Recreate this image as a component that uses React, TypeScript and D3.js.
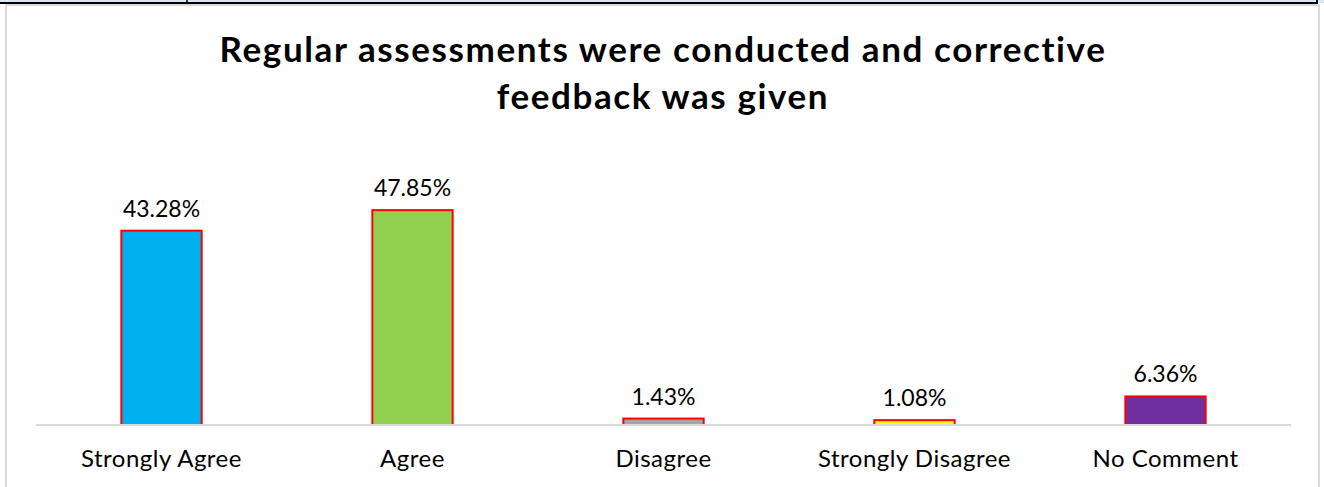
import React from "react";
import * as d3 from "d3";

const categories = ["Strongly Agree", "Agree", "Disagree", "Strongly Disagree", "No Comment"];
const values = [43.28, 47.85, 1.43, 1.08, 6.36];
const valueLabels = ["43.28%", "47.85%", "1.43%", "1.08%", "6.36%"];
const barColors = ["#00b0f0", "#92d050", "#a5a5a5", "#ffff00", "#7030a0"];
const titleLines = ["Regular assessments were conducted and corrective", "feedback was given"];

const W = 1324;
const H = 487;

export default function App() {
  const x = d3.scaleBand<string>().domain(categories).range([36, 1291]).paddingInner(0.68).paddingOuter(0.34);
  const y = d3.scaleLinear().domain([0, 60]).range([425, 425 - 269.4]);
  const font = "Lato, 'Open Sans', sans-serif";
  return (
    <div style={{ position: "fixed", left: 0, top: 0, width: W, height: H, background: "#fff" }}>
      <svg width={W} height={H} style={{ display: "block" }}>
        <rect x={0} y={0} width={W} height={H} fill="#fff" />
        <rect x={0} y={0} width={W} height={3} fill="#dce6f1" />
        <line x1={0} x2={1318} y1={3} y2={3} stroke="#000" strokeWidth={2} />
        <line x1={187} x2={187} y1={0} y2={3} stroke="#000" strokeWidth={1.5} />
        <line x1={1317} x2={1317} y1={0} y2={4} stroke="#000" strokeWidth={2} />
        <rect x={6} y={5} width={1313} height={H} fill="#fff" stroke="#d9d9d9" strokeWidth={2} />
        {titleLines.map((t, i) => (
          <text key={i} x={663} y={62 + i * 47} textAnchor="middle" fontFamily={font} fontWeight={700} fontSize={35} letterSpacing={1.6} fill="#000">
            {t}
          </text>
        ))}
        {categories.map((c, i) => {
          const bx = x(c)!;
          const bw = x.bandwidth();
          const top = y(values[i]);
          return (
            <g key={c}>
              <rect x={bx} y={top} width={bw} height={y(0) - top} fill={barColors[i]} stroke="#ff0000" strokeWidth={2} />
              <text x={bx + bw / 2} y={top - 14} textAnchor="middle" fontFamily={font} fontSize={23} fill="#000">
                {valueLabels[i]}
              </text>
              <text x={bx + bw / 2} y={467} textAnchor="middle" fontFamily={font} fontSize={24} letterSpacing={0.5} fill="#000">
                {c}
              </text>
            </g>
          );
        })}
        <line x1={36} x2={1291} y1={y(0)} y2={y(0)} stroke="#d9d9d9" strokeWidth={2} />
      </svg>
    </div>
  );
}
